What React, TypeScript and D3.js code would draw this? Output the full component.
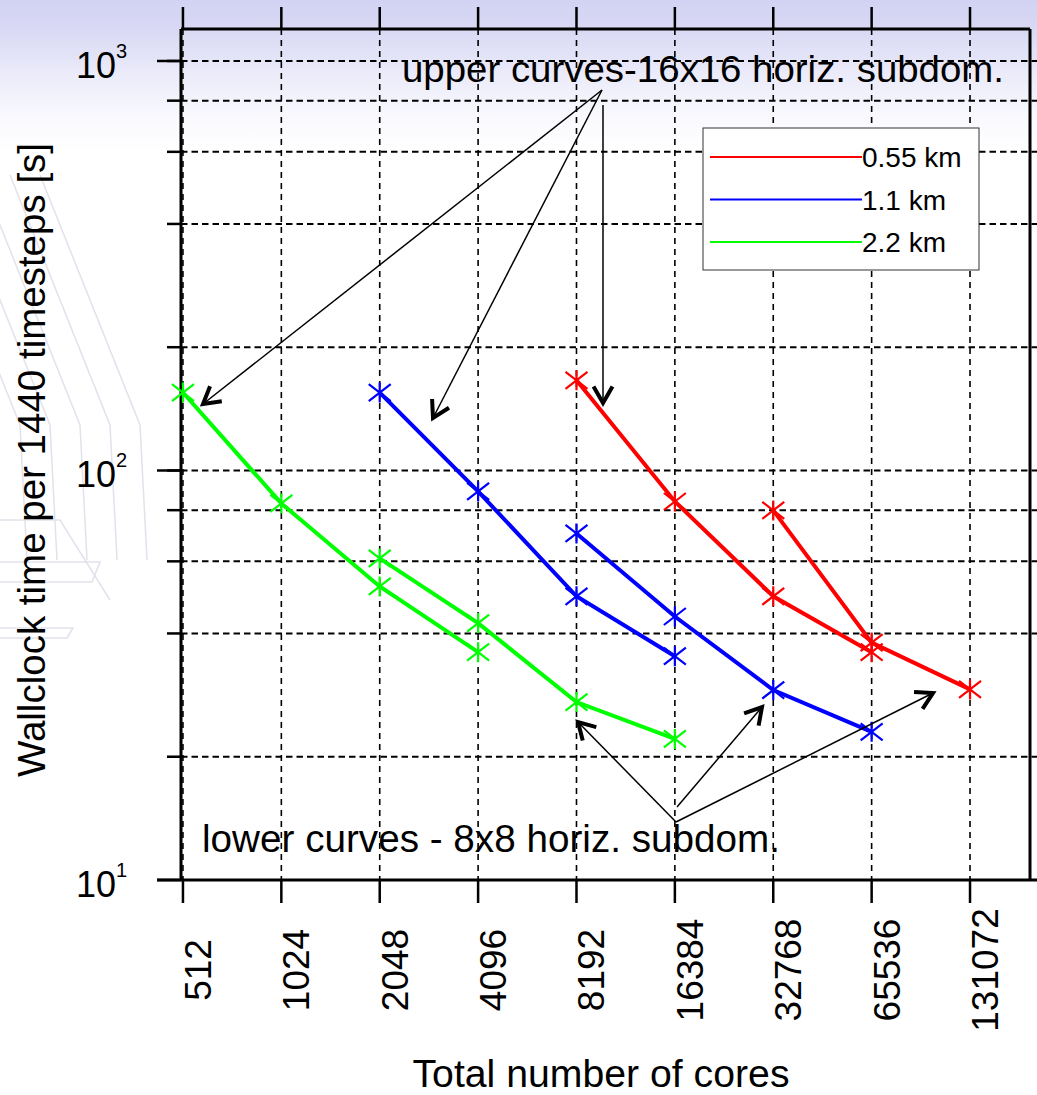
import React from "react";
import * as d3 from "d3";

// ---------- data ----------
const coreTicks = [512, 1024, 2048, 4096, 8192, 16384, 32768, 65536, 131072];
const yGridValues = [20, 40, 60, 80, 100, 200, 400, 600, 800, 1000];
const yMajorTicks = [10, 100, 1000];
const yMajorExp = ["1", "2", "3"];

// 0.55 km
const red16Cores = [8192, 16384, 32768, 65536];
const red16Time = [166, 84.0, 49.3, 36.0];
const red8Cores = [32768, 65536, 131072];
const red8Time = [79.9, 38.0, 29.2];
// 1.1 km
const blue16Cores = [2048, 4096, 8192, 16384];
const blue16Time = [155, 88.9, 49.3, 35.2];
const blue8Cores = [8192, 16384, 32768, 65536];
const blue8Time = [70.2, 44.0, 29.1, 23.0];
// 2.2 km
const green16Cores = [512, 1024, 2048, 4096];
const green16Time = [155, 83.1, 52.1, 36.0];
const green8Cores = [2048, 4096, 8192, 16384];
const green8Time = [61.0, 42.4, 27.2, 22.1];

const legendLabels = ["0.55 km", "1.1 km", "2.2 km"];
const legendColors = ["#ff0000", "#0000ff", "#00ff00"];

const W = 1037;
const H = 1095;
const L = 181, R = 1030, T = 29, B = 880;

const x = d3.scaleLog().base(2).domain([505, 200000]).range([L, R]);
const y = d3.scaleLog().base(10).domain([10, 1197]).range([B, T]);

const line = d3
  .line<[number, number]>()
  .x((d) => x(d[0]))
  .y((d) => y(d[1]));

function zip(a: number[], b: number[]): [number, number][] {
  return a.map((v, i) => [v, b[i]]);
}

const series = [
  { c: red16Cores, t: red16Time, color: "#ff0000" },
  { c: red8Cores, t: red8Time, color: "#ff0000" },
  { c: blue16Cores, t: blue16Time, color: "#0000ff" },
  { c: blue8Cores, t: blue8Time, color: "#0000ff" },
  { c: green16Cores, t: green16Time, color: "#00ff00" },
  { c: green8Cores, t: green8Time, color: "#00ff00" },
];

function markerPath(px: number, py: number) {
  const a = 11, b = 8.5, v = 10;
  return `M${px},${py - v}L${px},${py + v}M${px - a},${py - b}L${px + a},${py + b}M${px - a},${py + b}L${px + a},${py - b}`;
}

function Arrow({ x1, y1, x2, y2 }: { x1: number; y1: number; x2: number; y2: number }) {
  const ang = Math.atan2(y2 - y1, x2 - x1);
  const len = 19;
  const spread = (30 * Math.PI) / 180;
  const ax1 = x2 - len * Math.cos(ang - spread);
  const ay1 = y2 - len * Math.sin(ang - spread);
  const ax2 = x2 - len * Math.cos(ang + spread);
  const ay2 = y2 - len * Math.sin(ang + spread);
  return (
    <g>
      <line x1={x1} y1={y1} x2={x2} y2={y2} stroke="#000" strokeWidth={1.5} />
      <path
        d={`M${ax1},${ay1}L${x2},${y2}L${ax2},${ay2}`}
        fill="none"
        stroke="#000"
        strokeWidth={4}
        strokeLinejoin="miter"
      />
    </g>
  );
}

export default function App() {
  const font = "'Liberation Sans', Arial, Helvetica, sans-serif";
  const wm = "#e2e2ec";
  return (
    <svg
      width={W}
      height={H}
      style={{ position: "absolute", left: 0, top: 0, display: "block" }}
      fontFamily={font}
    >
      <defs>
        <linearGradient id="bg" x1="0" y1="0" x2="0" y2="1">
          <stop offset="0" stopColor="#d2d2f3" />
          <stop offset="0.03" stopColor="#dadaf5" />
          <stop offset="0.07" stopColor="#ececfa" />
          <stop offset="0.11" stopColor="#fafafe" />
          <stop offset="0.14" stopColor="#ffffff" />
          <stop offset="1" stopColor="#ffffff" />
        </linearGradient>
      </defs>
      <rect x={0} y={0} width={W} height={H} fill="url(#bg)" />

      {/* faint watermark */}
      <g fill="none" stroke={wm} strokeWidth={1.5}>
        {[-90, -60, -30, 0, 30].map((o, i) => (
          <path key={i} d={`M${o + 10},${175}L${o + 110},${425}L${o + 117},${560}`} />
        ))}
        <path d="M0,562L100,562L92,582L0,582" />
        <path d="M0,628L73,628L67,638L0,638" />
        <path d="M0,520L60,520L110,600" />
      </g>

      {/* horizontal grid */}
      {yGridValues.map((v) => (
        <line
          key={"hg" + v}
          x1={L}
          x2={W}
          y1={y(v)}
          y2={y(v)}
          stroke="#000"
          strokeWidth={2}
          strokeDasharray="6.5,4"
        />
      ))}
      {/* vertical grid */}
      {coreTicks.map((c) => (
        <line
          key={"vg" + c}
          x1={x(c)}
          x2={x(c)}
          y1={T}
          y2={B}
          stroke="#000"
          strokeWidth={1.6}
          strokeDasharray="6,5"
        />
      ))}

      {/* y ticks */}
      {yGridValues.map((v) => (
        <line key={"yt" + v} x1={167} x2={L} y1={y(v)} y2={y(v)} stroke="#000" strokeWidth={2.5} />
      ))}
      {yMajorTicks.map((v, i) => (
        <g key={"ym" + v}>
          <line x1={157} x2={L} y1={y(v)} y2={y(v)} stroke="#000" strokeWidth={2.5} />
          <text x={76} y={y(v) + 17} fontSize={36} fill="#000">
            10
            <tspan fontSize={20} dy={-20}>
              {yMajorExp[i]}
            </tspan>
          </text>
        </g>
      ))}

      {/* x ticks top & bottom */}
      {coreTicks.map((c) => (
        <g key={"xt" + c}>
          <line x1={x(c)} x2={x(c)} y1={7} y2={T} stroke="#000" strokeWidth={2.5} />
          <line x1={x(c)} x2={x(c)} y1={B} y2={903} stroke="#000" strokeWidth={2.5} />
          <text
            transform={`translate(${x(c) + 28},970) rotate(-90)`}
            textAnchor="middle"
            fontSize={37}
            fill="#000"
          >
            {String(c)}
          </text>
        </g>
      ))}

      {/* frame */}
      <line x1={L} x2={R} y1={T} y2={T} stroke="#000" strokeWidth={3} />
      <line x1={L} x2={L} y1={T} y2={B} stroke="#000" strokeWidth={3} />
      <line x1={R} x2={R} y1={T} y2={B} stroke="#000" strokeWidth={3} />
      <line x1={157} x2={W} y1={B} y2={B} stroke="#000" strokeWidth={3} />

      {/* data */}
      {series.map((s, i) => (
        <g key={"s" + i}>
          <path d={line(zip(s.c, s.t)) || ""} fill="none" stroke={s.color} strokeWidth={4} />
          {zip(s.c, s.t).map((d, j) => (
            <path key={j} d={markerPath(x(d[0]), y(d[1]))} stroke={s.color} strokeWidth={2.2} fill="none" />
          ))}
        </g>
      ))}

      {/* annotations */}
      <text x={402} y={82} fontSize={37} fill="#000" textLength={602} lengthAdjust="spacingAndGlyphs">
        upper curves-16x16 horiz. subdom.
      </text>
      <Arrow x1={602} y1={90} x2={203} y2={404} />
      <Arrow x1={602} y1={90} x2={433} y2={418} />
      <Arrow x1={603} y1={105} x2={603} y2={403} />

      <text x={202} y={852} fontSize={38.5} fill="#000" textLength={578} lengthAdjust="spacingAndGlyphs">
        lower curves - 8x8 horiz. subdom.
      </text>
      <Arrow x1={676} y1={822} x2={578} y2={722} />
      <Arrow x1={677} y1={807} x2={762} y2={707} />
      <Arrow x1={676} y1={822} x2={933} y2={693} />

      {/* legend */}
      <rect x={703} y={128} width={276} height={142} fill="#fff" stroke="#333" strokeWidth={1} />
      {legendLabels.map((lab, i) => (
        <g key={"lg" + i}>
          <line x1={710} x2={862} y1={157 + i * 42.5} y2={157 + i * 42.5} stroke={legendColors[i]} strokeWidth={2} />
          <text x={862} y={167 + i * 42.5} fontSize={28} fill="#000">
            {lab}
          </text>
        </g>
      ))}

      {/* axis titles */}
      <text x={601} y={1087} textAnchor="middle" fontSize={38} fill="#000" textLength={377} lengthAdjust="spacingAndGlyphs">
        Total number of cores
      </text>
      <text
        transform="translate(45,460) rotate(-90)"
        textAnchor="middle"
        fontSize={38.5}
        fill="#000"
      >
        Wallclock time per 1440 timesteps [s]
      </text>
    </svg>
  );
}
